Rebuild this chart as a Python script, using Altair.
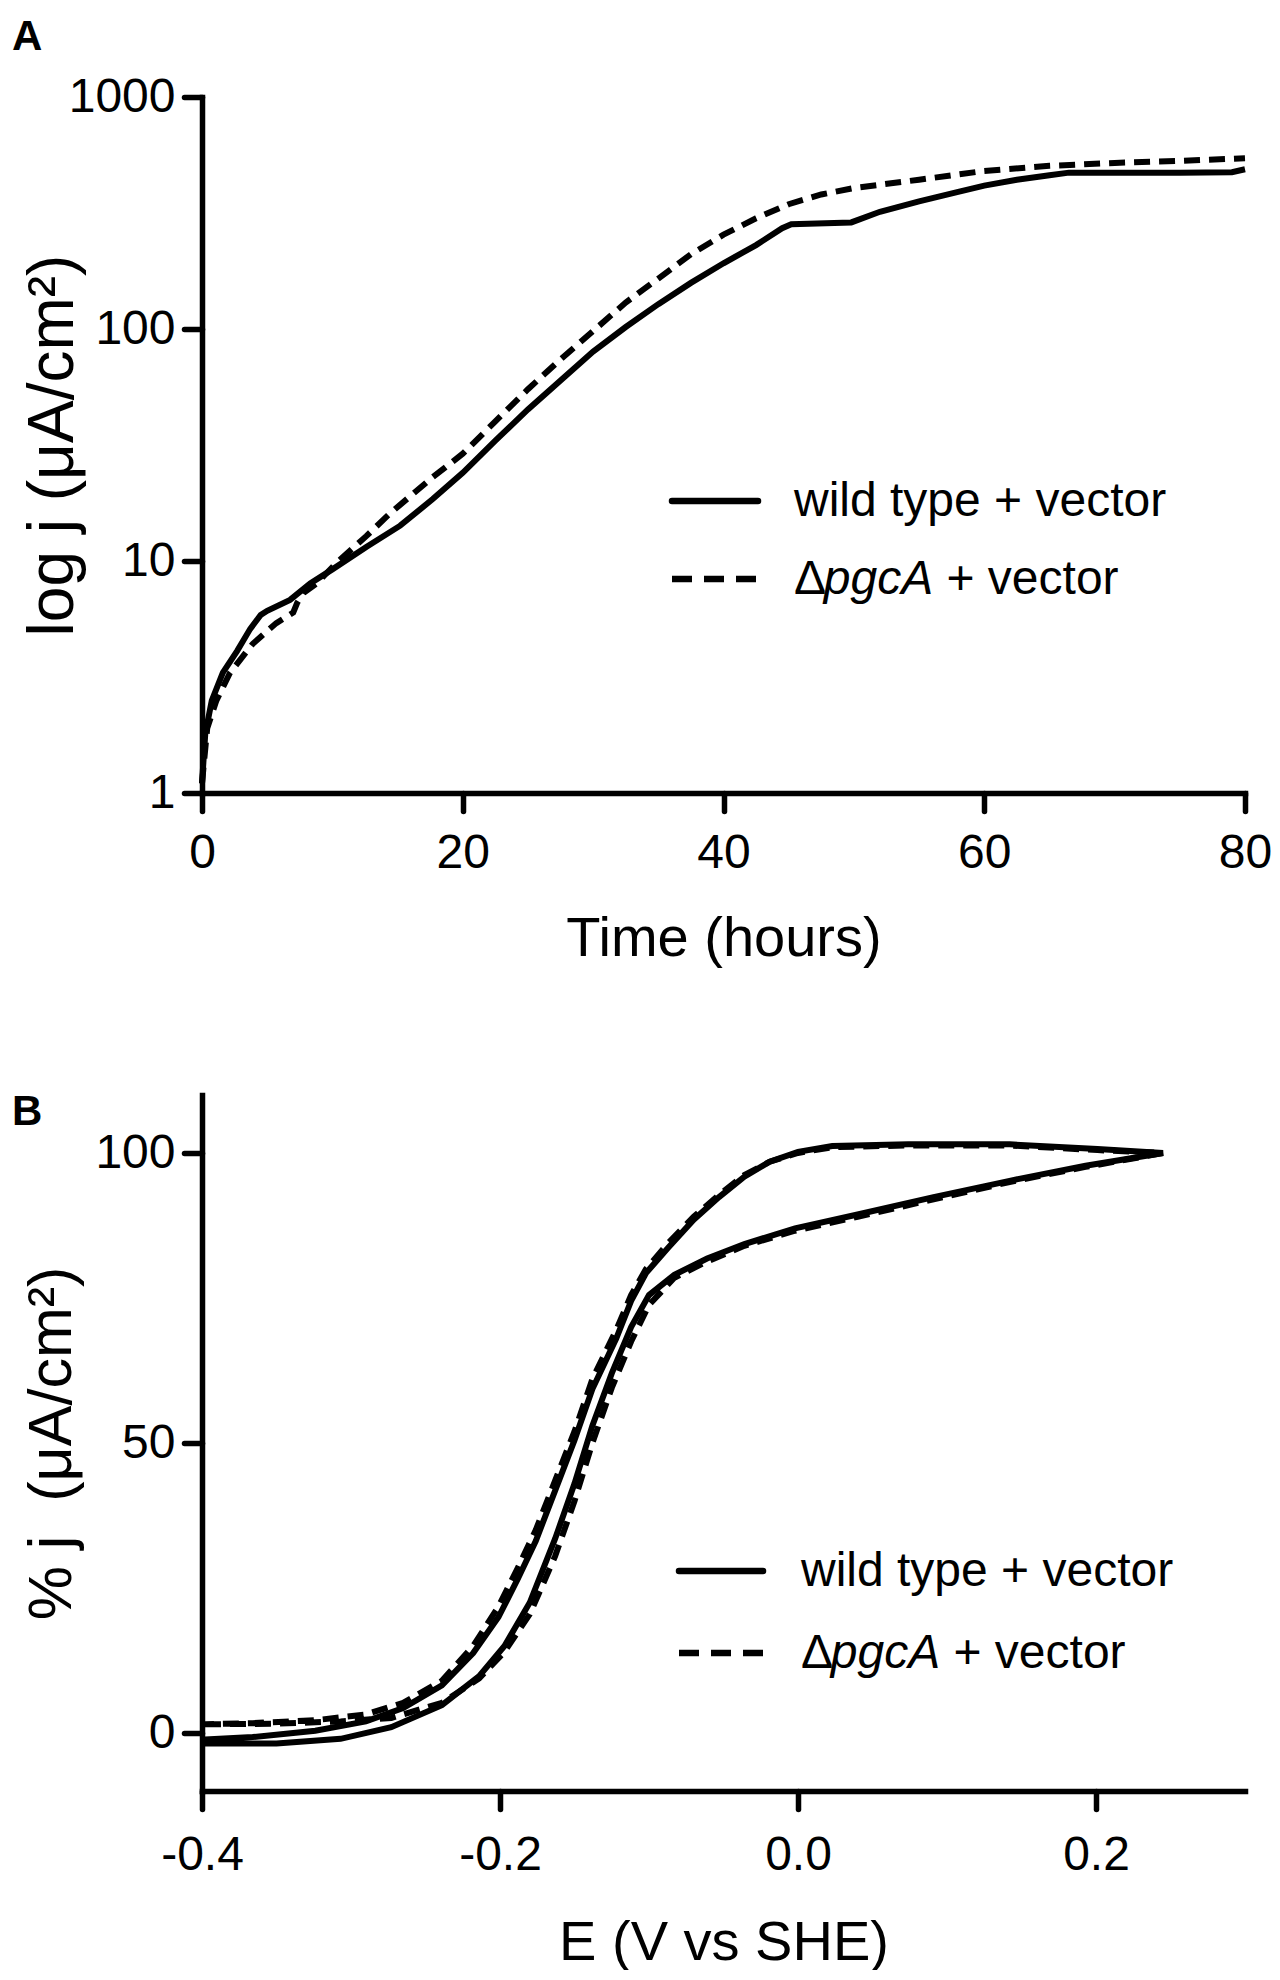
import altair as alt
import pandas as pd

# ---------------- Panel A data: current density vs time ----------------
wt_t = [0, 0.25, 0.75, 1.6, 2.7, 3.7, 4.5, 5.0, 6.75, 8.3, 10, 12.6, 15.2, 17.7,
        20, 22.5, 25, 27.5, 30, 32.5, 35, 37.5, 40, 42.5, 44.5, 45.2, 49.8, 52,
        55, 58, 60, 62.5, 65, 66.5, 70, 75, 79, 80]
wt_j = [1.1, 1.8, 2.5, 3.3, 4.1, 5.1, 5.85, 6.1, 6.8, 8.0, 9.2, 11.5, 14.2, 18.5,
        24, 33, 45, 60, 80, 102, 128, 158, 192, 230, 272, 283, 288, 320,
        355, 390, 415, 440, 460, 472, 472, 472, 474, 488]

dp_t = [0, 0.4, 1.1, 2.15, 3.9, 5.7, 7.0, 7.3, 7.8, 8.8, 10.3, 12.6, 14.4, 17.7,
        20, 22.5, 25, 27.5, 30, 32.5, 35, 37.5, 40, 42.5, 45, 47.5, 50, 55,
        60, 65, 70, 75, 80]
dp_j = [1.1, 1.9, 2.5, 3.3, 4.4, 5.4, 6.0, 6.6, 7.3, 8.0, 9.8, 12.8, 16.0, 23,
        29, 40, 55, 74, 98, 130, 165, 210, 255, 300, 345, 380, 405, 440,
        480, 505, 520, 530, 545]

xA_ticks = [0, 20, 40, 60, 80]
yA_ticks = [1, 10, 100, 1000]

# ---------------- Panel B data: normalised CV (forward then reverse scan) ----------------
fwd_E = [-0.398, -0.35, -0.307, -0.273, -0.239, -0.214, -0.197, -0.18, -0.163, -0.15,
         -0.138, -0.125, -0.112, -0.1, -0.083, -0.061, -0.036, -0.002, 0.04, 0.091,
         0.142, 0.193, 0.245]
rev_E = [0.245, 0.201, 0.142, 0.074, 0.023, 0.0, -0.019, -0.036, -0.053, -0.07,
         -0.087, -0.102, -0.112, -0.122, -0.138, -0.15, -0.163, -0.176, -0.188, -0.201,
         -0.218, -0.239, -0.265, -0.29, -0.324, -0.366, -0.398]

wt_fwd = [-1.8, -1.8, -1.0, 1.0, 4.8, 9.8, 15.0, 22.5, 33.5, 43.0, 53.0, 62.0, 70.0,
          75.5, 79.0, 81.8, 84.3, 87.0, 89.4, 92.4, 95.2, 97.8, 100.0]
wt_rev = [100.0, 100.7, 101.5, 101.5, 101.2, 100.2, 98.5, 95.9, 92.4, 88.5, 83.7, 79.3,
          74.5, 68.0, 59.3, 50.5, 41.8, 33.1, 26.6, 20.0, 13.8, 8.2, 4.3, 2.0, 0.4,
          -0.7, -1.1]

dp_fwd = [1.5, 1.6, 2.0, 2.6, 5.2, 9.4, 14.0, 20.5, 30.5, 40.0, 50.0, 59.5, 67.5,
          73.8, 78.5, 81.3, 84.0, 86.6, 89.0, 92.0, 95.0, 97.6, 100.0]
dp_rev = [100.0, 100.5, 101.3, 101.3, 101.0, 100.0, 98.5, 96.2, 92.8, 89.0, 84.5, 80.0,
          75.5, 69.5, 61.0, 52.0, 43.5, 35.0, 28.5, 21.8, 15.0, 9.0, 5.2, 3.2, 2.2,
          1.7, 1.5]

xB_ticks = [-0.4, -0.2, 0.0, 0.2]
yB_ticks = [0, 50, 100]

legend_labels = ["wild type + vector", "\u0394", "pgcA", "+ vector"]

# ---------------- styling ----------------
FONT = "Liberation Sans"
W, H = 1043, 696
LW = 6
DASH = [16, 9]
LEG_FS = 48
YTITLE_FS = 64
LETTER_FS = 42


def one():
    return alt.Data(values=[{}])


def legend_layers(x0, x1, y1, y2, tx, tb1, tb2):
    d_w = 0.62 * LEG_FS
    p_w = 2.279 * LEG_FS
    sp = 0.278 * LEG_FS
    layers = [
        alt.Chart(one()).mark_rule(color="black", strokeWidth=6.5, strokeCap="round").encode(
            x=alt.value(x0), x2=alt.value(x1), y=alt.value(y1)),
        alt.Chart(one()).mark_rule(color="black", strokeWidth=6.5, strokeDash=[20, 12]).encode(
            x=alt.value(x0), x2=alt.value(x1), y=alt.value(y2)),
        alt.Chart(one()).mark_text(text=legend_labels[0], align="left", baseline="alphabetic",
                                   font=FONT, fontSize=LEG_FS, color="black").encode(
            x=alt.value(tx), y=alt.value(tb1)),
        alt.Chart(one()).mark_text(text=legend_labels[1], align="left", baseline="alphabetic",
                                   font=FONT, fontSize=LEG_FS, color="black").encode(
            x=alt.value(tx), y=alt.value(tb2)),
        alt.Chart(one()).mark_text(text=legend_labels[2], align="left", baseline="alphabetic",
                                   font=FONT, fontSize=LEG_FS, fontStyle="italic", color="black").encode(
            x=alt.value(tx + d_w), y=alt.value(tb2)),
        alt.Chart(one()).mark_text(text=legend_labels[3], align="left", baseline="alphabetic",
                                   font=FONT, fontSize=LEG_FS, color="black").encode(
            x=alt.value(tx + d_w + p_w + sp), y=alt.value(tb2)),
    ]
    return layers


def panel_letter(letter, y):
    return alt.Chart(one()).mark_text(text=letter, align="left", baseline="top", font=FONT,
                                      fontSize=LETTER_FS, fontWeight="bold", color="black").encode(
        x=alt.value(-190), y=alt.value(y))


# ---------------- Panel A ----------------
dfA_wt = pd.DataFrame({"t": wt_t, "j": wt_j})
dfA_dp = pd.DataFrame({"t": dp_t, "j": dp_j})

xA = alt.X("t:Q", scale=alt.Scale(domain=[0, 80], nice=False, zero=False),
           axis=alt.Axis(values=xA_ticks, format="d", title="Time (hours)",
                         labelPadding=18, titlePadding=34))
yA = alt.Y("j:Q", scale=alt.Scale(type="log", domain=[1, 1000], nice=False),
           axis=alt.Axis(values=yA_ticks, format="d", title="log j (\u03bcA/cm\u00b2)",
                         labelPadding=9, titleAngle=270, titleX=-130, titleY=H / 2,
                         titleAlign="center", titleBaseline="alphabetic",
                         titleFontSize=YTITLE_FS))

a_wt = alt.Chart(dfA_wt).mark_line(color="black", strokeWidth=LW).encode(x=xA, y=yA)
a_dp = alt.Chart(dfA_dp).mark_line(color="black", strokeWidth=LW, strokeDash=DASH).encode(x=xA, y=yA)

panelA = alt.layer(
    a_wt, a_dp,
    *legend_layers(470, 556, 404, 482, 592, 419, 497),
    panel_letter("A", -80),
).properties(width=W, height=H)

# ---------------- Panel B ----------------
def loop_frame(fwd_vals, rev_vals):
    E = fwd_E + rev_E
    v = fwd_vals + rev_vals
    return pd.DataFrame({"E": E, "p": v, "i": list(range(len(E)))})


dfB_wt = loop_frame(wt_fwd, wt_rev)
dfB_dp = loop_frame(dp_fwd, dp_rev)

xB = alt.X("E:Q", scale=alt.Scale(domain=[-0.4, 0.3], nice=False, zero=False),
           axis=alt.Axis(values=xB_ticks, title="E (V vs SHE)",
                         labelExpr="datum.value < 0 ? '-' + format(-datum.value, '.1f') : format(datum.value, '.1f')",
                         labelPadding=22, titlePadding=36))
yB = alt.Y("p:Q", scale=alt.Scale(domain=[-10, 110], nice=False, zero=False),
           axis=alt.Axis(values=yB_ticks, format="d", title="% j \u00a0(\u03bcA/cm\u00b2)",
                         labelPadding=9, titleAngle=270, titleX=-132, titleY=H / 2,
                         titleAlign="center", titleBaseline="alphabetic",
                         titleFontSize=YTITLE_FS - 3))

b_wt = alt.Chart(dfB_wt).mark_line(color="black", strokeWidth=LW).encode(
    x=xB, y=yB, order=alt.Order("i:Q"))
b_dp = alt.Chart(dfB_dp).mark_line(color="black", strokeWidth=LW, strokeDash=DASH).encode(
    x=xB, y=yB, order=alt.Order("i:Q"))

panelB = alt.layer(
    b_wt, b_dp,
    *legend_layers(477, 561, 476, 558, 599, 491, 573),
    panel_letter("B", -3),
).properties(width=W, height=H)

chart = alt.vconcat(panelA, panelB, spacing=302, bounds="flush").properties(
    padding={"left": 4, "top": 8, "right": 0, "bottom": 0}
).configure_view(stroke=None).configure_axis(
    grid=False,
    domainColor="black", domainWidth=5.5, domainCap="square",
    tickColor="black", tickWidth=5.5, tickSize=18, tickCap="round",
    labelFont=FONT, labelFontSize=48, labelColor="black", labelFlush=False,
    titleFont=FONT, titleFontSize=56, titleFontWeight="normal", titleColor="black",
)

chart.save("out.html", embed_options={"renderer": "svg", "actions": False})
